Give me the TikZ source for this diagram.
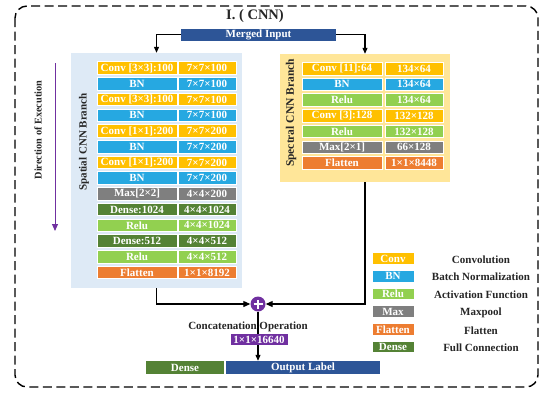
\documentclass[tikz,border=0pt]{standalone}
\usepackage{fontspec}
\setmainfont{Liberation Serif}
\usetikzlibrary{arrows.meta}
\definecolor{cConv}{RGB}{255,192,0}
\definecolor{cBN}{RGB}{38,168,225}
\definecolor{cRelu}{RGB}{146,208,80}
\definecolor{cMax}{RGB}{127,127,127}
\definecolor{cFlat}{RGB}{237,125,49}
\definecolor{cDense}{RGB}{84,130,53}
\definecolor{cBlue}{RGB}{45,85,151}
\definecolor{cPurple}{RGB}{112,48,160}
\definecolor{cSpatBg}{RGB}{222,234,246}
\definecolor{cSpecBg}{RGB}{255,230,153}
\definecolor{cText}{RGB}{38,38,38}
\tikzset{
  cell/.style={draw=white, line width=0.8pt, inner sep=0pt, minimum height=12.6pt,
     text=white, font=\bfseries\fontsize{11}{12}\selectfont},
  legbox/.style={draw=white, line width=0.8pt, inner sep=0pt, minimum width=42pt, minimum height=11.5pt,
     text=white, font=\bfseries\fontsize{11}{12}\selectfont},
  legtext/.style={text=cText, font=\bfseries\fontsize{11}{12}\selectfont},
  bglayer/.style={inner sep=0pt, draw=none},
  arr/.style={line width=1.1pt, -{Triangle[length=6pt,width=5pt]}},
  conn/.style={line width=1.1pt}
}
\begin{document}
\begin{tikzpicture}[x=1pt,y=-1pt]
\useasboundingbox (0,0) rectangle (545,392);
% outer dashed frame
\draw[line width=1.4pt, dash pattern=on 9pt off 4.5pt, rounded corners=12pt] (15,6) rectangle (538,387);
% title
\node[font=\bfseries\fontsize{14.5}{16}\selectfont, text=cText] (title) at (255,16) {I. ( CNN)};
% merged input
\node[fill=cBlue, inner sep=0pt, minimum width=155pt, minimum height=12.5pt, text=white,
      font=\bfseries\fontsize{11}{12}\selectfont] (mi) at (258.5,34.8) {Merged Input};
% backgrounds
\node[bglayer, fill=cSpatBg, minimum width=171pt, minimum height=235pt] (spbg) at (156.5,170.5) {};
\node[bglayer, fill=cSpecBg, minimum width=170pt, minimum height=128pt] (sebg) at (365,118) {};
% spatial rows
\foreach \i/\a/\b/\c in {
 0/{Conv [3×3]:100}/{7×7×100}/cConv,
 1/{BN}/{7×7×100}/cBN,
 2/{Conv [3×3]:100}/{7×7×100}/cConv,
 3/{BN}/{7×7×100}/cBN,
 4/{Conv [1×1]:200}/{7×7×200}/cConv,
 5/{BN}/{7×7×200}/cBN,
 6/{Conv [1×1]:200}/{7×7×200}/cConv,
 7/{BN}/{7×7×200}/cBN,
 8/{Max[2×2]}/{4×4×200}/cMax,
 9/{Dense:1024}/{4×4×1024}/cDense,
 10/{Relu}/{4×4×1024}/cRelu,
 11/{Dense:512}/{4×4×512}/cDense,
 12/{Relu}/{4×4×512}/cRelu,
 13/{Flatten}/{1×1×8192}/cFlat}{
  \node[cell, fill=\c, minimum width=80pt] (spa\i) at (137,68.1+15.72*\i) {\a};
  \node[cell, fill=\c, minimum width=58pt] (spb\i) at (207,68.1+15.72*\i) {\b};
}
% spectral rows
\foreach \i/\a/\b/\c in {
 0/{Conv [11]:64}/{134×64}/cConv,
 1/{BN}/{134×64}/cBN,
 2/{Relu}/{134×64}/cRelu,
 3/{Conv [3]:128}/{132×128}/cConv,
 4/{Relu}/{132×128}/cRelu,
 5/{Max[2×1]}/{66×128}/cMax,
 6/{Flatten}/{1×1×8448}/cFlat}{
  \node[cell, fill=\c, minimum width=80pt] (sea\i) at (342,68.6+15.72*\i) {\a};
  \node[cell, fill=\c, minimum width=58pt] (seb\i) at (414,68.6+15.72*\i) {\b};
}
% branch labels
\node[rotate=90, text=cText, font=\bfseries\fontsize{11}{12}\selectfont] (splab) at (84,142) {Spatial CNN Branch};
\node[rotate=90, text=cText, font=\bfseries\fontsize{11.5}{12}\selectfont] (selab) at (291,113) {Spectral CNN Branch};
% direction of execution
\coordinate (dtop) at (55,63);
\coordinate (dbot) at (55,231);
\draw[cPurple, line width=1pt, -{Triangle[length=7pt,width=6pt]}] (dtop) -- (dbot);
\node[rotate=90, text=cText, font=\bfseries\fontsize{10.3}{11}\selectfont] (dirlab) at (38,130) {Direction of Execution};
% arrows from merged input
\draw[arr] (mi.west) -| (spbg.north);
\draw[arr] (mi.east) -| (sebg.north);
% concatenation
\node[circle, fill=cPurple, minimum size=15pt, inner sep=0pt] (plus) at (258,304) {};
\draw[white, line width=2.2pt] ([xshift=-4.5pt]plus.center) -- ([xshift=4.5pt]plus.center);
\draw[white, line width=2.2pt] ([yshift=-4.5pt]plus.center) -- ([yshift=4.5pt]plus.center);
\draw[conn, -{Triangle[length=7pt,width=6pt]}] (spbg.south) |- (plus.west);
\draw[conn, -{Triangle[length=7pt,width=6pt]}] (sebg.south) |- (plus.east);
% output bars
\node[fill=cDense, inner sep=0pt, minimum width=78pt, minimum height=13pt, text=white,
      font=\bfseries\fontsize{11}{12}\selectfont] (dense) at (185,367.5) {Dense};
\node[fill=cBlue, inner sep=0pt, minimum width=154pt, minimum height=13pt, text=white,
      font=\bfseries\fontsize{11}{12}\selectfont] (out) at (303,367.5) {Output Label};
\draw[conn, -{Triangle[length=6pt,width=5pt]}] (plus.south) -- (plus.south |- out.north);
\node[text=cText, font=\bfseries\fontsize{11}{12}\selectfont] (conclab) at (248,327) {Concatenation Operation};
\node[fill=cPurple, inner sep=0pt, minimum width=57pt, minimum height=11.5pt, text=white,
      font=\bfseries\fontsize{11}{12}\selectfont] (cbox) at (259,339.5) {1×1×16640};
% legend
\foreach \i/\n/\t/\c in {0/Conv/Convolution/cConv, 1/BN/{Batch Normalization}/cBN,
   2/Relu/{Activation Function}/cRelu, 3/Max/Maxpool/cMax, 4/Flatten/Flatten/cFlat,
   5/Dense/{Full Connection}/cDense}{
  \node[legbox, fill=\c] (lb\i) at (393,258.5+17.7*\i) {\n};
  \node[legtext] (lt\i) at (481,259.5+17.7*\i) {\t};
}
\end{tikzpicture}
\end{document}
